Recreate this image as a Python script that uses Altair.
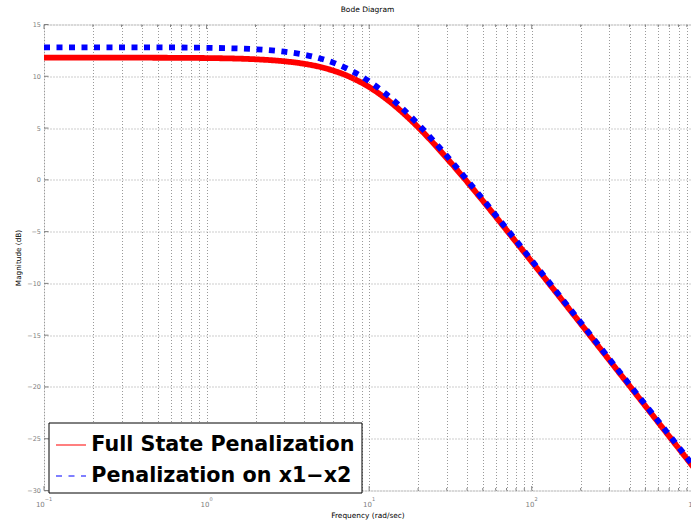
import altair as alt
import pandas as pd

# ---- data ----
freq = [0.1, 0.2, 0.5, 1, 2, 3, 4, 5, 6, 7, 8, 10, 12, 15, 20, 25, 30, 40, 50, 70,
        100, 150, 200, 300, 500, 700, 1000]
mag_full = [11.80, 11.80, 11.79, 11.76, 11.64, 11.45, 11.20, 10.90, 10.55, 10.18, 9.78,
            8.96, 8.12, 6.91, 5.08, 3.49, 2.10, -0.18, -2.02, -4.86, -7.91, -11.40,
            -13.89, -17.41, -21.84, -24.76, -27.86]
mag_x1x2 = [12.80, 12.80, 12.79, 12.75, 12.61, 12.38, 12.08, 11.72, 11.32, 10.88, 10.43,
            9.51, 8.60, 7.30, 5.38, 3.73, 2.31, -0.01, -1.87, -4.72, -7.78, -11.28,
            -13.77, -17.29, -21.72, -24.64, -27.74]
series_names = ["Full State Penalization", "Penalization on x1\u2212x2"]

decades = [0.1, 1, 10, 100, 1000]
exponents = ["\u22121", "0", "1", "2", "3"]
major_x = [0.1, 1, 10, 100]
minor_x = [k * d for d in [0.1, 1, 10, 100] for k in range(2, 10)]
y_ticks = [-30, -25, -20, -15, -10, -5, 0, 5, 10, 15]

# ---- layout ----
W, H = 647, 466
FONT = "DejaVu Sans"
GRAY = "#808080"
x_scale = alt.Scale(type="log", domain=[0.1, 954], nice=False)
y_scale = alt.Scale(domain=[-30, 15], nice=False)

df = pd.DataFrame({
    "freq": freq + freq,
    "mag": mag_full + mag_x1x2,
    "series": [series_names[0]] * len(freq) + [series_names[1]] * len(freq),
})

legend_kw = dict(title=None, orient="none", legendX=4.5, legendY=398,
                 direction="vertical", symbolType="stroke",
                 symbolSize=900, symbolStrokeWidth=1.2,
                 labelFont=FONT, labelFontWeight="bold",
                 labelFontSize=20.7, labelColor="black",
                 labelOffset=4.3, labelLimit=500, padding=6.5,
                 rowPadding=5, fillColor="white", strokeColor="black")

lines = alt.Chart(df).mark_line(
    clip=True, strokeWidth=5.8, strokeCap="butt", interpolate="monotone"
).encode(
    x=alt.X("freq:Q", scale=x_scale,
            axis=alt.Axis(values=major_x + minor_x, labels=False, ticks=False, domain=False,
                          grid=True, gridDash=[1, 2], gridColor="#9a9a9a", gridWidth=1,
                          title="Frequency  (rad/sec)", titleFont=FONT, titleFontSize=7.4,
                          titleFontWeight="normal", titleColor="black",
                          titleY=26.5, titleBaseline="alphabetic")),
    y=alt.Y("mag:Q", scale=y_scale,
            axis=alt.Axis(values=y_ticks, ticks=False, domain=False,
                          labelFont=FONT, labelFontSize=6.5, labelColor=GRAY, labelPadding=3.5,
                          grid=True, gridDash=[1, 2], gridColor="#9a9a9a", gridWidth=1,
                          title="Magnitude (dB)", titleFont=FONT, titleFontSize=7.3,
                          titleFontWeight="normal", titleColor="black",
                          titleX=-23.7, titleY=H / 2, titleBaseline="alphabetic")),
    color=alt.Color("series:N",
                    scale=alt.Scale(domain=series_names, range=["#ff0000", "#0000ff"]),
                    legend=alt.Legend(**legend_kw)),
    strokeDash=alt.StrokeDash("series:N",
                              scale=alt.Scale(domain=series_names, range=[[1, 0], [6, 6.5]]),
                              legend=alt.Legend(**legend_kw)),
)

ticks_major = pd.DataFrame({"t": major_x})
ticks_minor = pd.DataFrame({"t": minor_x})
ticks_y = pd.DataFrame({"v": y_ticks})

def xticks(data, length, top):
    y0 = 0 if top else H
    y1 = length if top else H - length
    return alt.Chart(data).mark_rule(color=GRAY, strokeWidth=1).encode(
        x=alt.X("t:Q", scale=x_scale), y=alt.value(y0), y2=alt.value(y1))

tick_layers = [
    xticks(ticks_major, 4.5, False), xticks(ticks_major, 4.5, True),
    xticks(ticks_minor, 2.5, False), xticks(ticks_minor, 2.5, True),
    alt.Chart(ticks_y).mark_rule(color=GRAY, strokeWidth=1).encode(
        y=alt.Y("v:Q", scale=y_scale), x=alt.value(0), x2=alt.value(4.5)),
]

lab = pd.DataFrame({"f": decades, "exp": exponents, "ten": ["10"] * len(decades)})
lab_first = lab[lab["f"] < 0.5]
lab_rest = lab[lab["f"] > 0.5]

def labels(data, dx):
    ten = alt.Chart(data).mark_text(align="right", baseline="alphabetic", dx=dx,
                                    font=FONT, fontSize=7, color=GRAY).encode(
        x=alt.X("f:Q", scale=x_scale), y=alt.value(H + 16.8), text="ten:N")
    ex = alt.Chart(data).mark_text(align="left", baseline="alphabetic", dx=dx,
                                   font=FONT, fontSize=5, color=GRAY).encode(
        x=alt.X("f:Q", scale=x_scale), y=alt.value(H + 10.5), text="exp:N")
    return [ten, ex]

label_layers = labels(lab_first, 0.8) + labels(lab_rest, 2.8)

chart = alt.layer(*tick_layers, lines, *label_layers).properties(
    width=W, height=H,
    autosize=alt.AutoSizeParams(type="none"),
    padding={"left": 44, "top": 24.5, "right": 0, "bottom": 31.5},
    title=alt.TitleParams("Bode Diagram", font=FONT, fontSize=7.5, fontWeight="normal",
                          color="black", anchor="middle", baseline="alphabetic",
                          frame="group", offset=2),
).configure_view(stroke=GRAY, strokeWidth=1).configure(background="white")

chart.save("out.html", embed_options={"renderer": "svg", "actions": False})
